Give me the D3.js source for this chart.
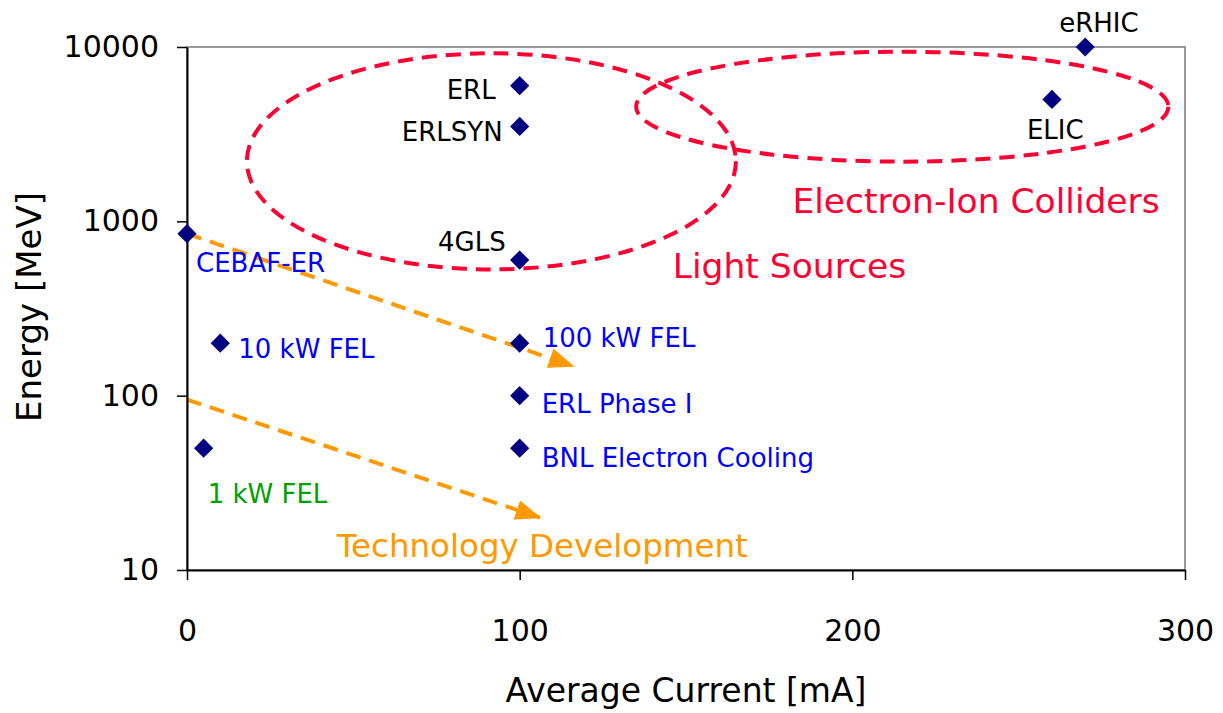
<!DOCTYPE html>
<html>
<head>
<meta charset="utf-8">
<script src="https://cdn.jsdelivr.net/npm/d3@7"></script>
<style>
  body { margin: 0; background: #fff; }
  text { font-family: "Comic Sans MS", "DejaVu Sans", sans-serif; }
</style>
</head>
<body>
<div id="chart"></div>
<script>
// Data
var names    = ["CEBAF-ER", "10 kW FEL", "1 kW FEL", "ERL", "ERLSYN", "4GLS",
                "100 kW FEL", "ERL Phase I", "BNL Electron Cooling", "ELIC", "eRHIC"];
var currents = [0, 10, 5, 100, 100, 100, 100, 100, 100, 260, 270];     // mA
var energies = [850, 200, 50, 6000, 3500, 600, 200, 100, 50, 5000, 10000]; // MeV
var facilityStatus = ["built", "built", "done", "proposed", "proposed", "proposed",
                      "built", "built", "built", "proposed", "proposed"];

var xTicks = [0, 100, 200, 300];
var yTicks = [10, 100, 1000, 10000];

// Groupings drawn as dashed ellipses (data extents)
var groupNames   = ["Light Sources", "Electron-Ion Colliders"];
var groupCurLo   = [18, 135];
var groupCurHi   = [165, 295];
var groupEnLo    = [530, 2200];
var groupEnHi    = [9200, 9400];
var groupLabelX  = [146, 182];
var groupLabelE  = [470, 1110];

// Technology development arrows
var arrowCur0 = [0, 0];
var arrowEn0  = [850, 95];
var arrowCur1 = [116, 106];
var arrowEn1  = [148, 20];
var trendLabel = "Technology Development";
var trendLabelX = 45, trendLabelE = 11.9;

// label offsets from markers (px)
var labelLayout = [
  {dx: 9,   dy: 38,  anchor: "start"},
  {dx: 18,  dy: 15,  anchor: "start"},
  {dx: 4,   dy: 55,  anchor: "start"},
  {dx: -24, dy: 13,  anchor: "end"},
  {dx: -17, dy: 15,  anchor: "end"},
  {dx: -14, dy: -9,  anchor: "end"},
  {dx: 23,  dy: 4,   anchor: "start"},
  {dx: 22,  dy: 17,  anchor: "start"},
  {dx: 22,  dy: 19,  anchor: "start"},
  {dx: -25, dy: 40,  anchor: "start"},
  {dx: -26, dy: -15, anchor: "start"}
];
var statusColor = {built: "#0000ff", done: "#00a000", proposed: "#000000"};

var margin = {top: 47, right: 38, bottom: 143, left: 187},
    width = 1223 - margin.left - margin.right,
    height = 713 - margin.top - margin.bottom;

var svg = d3.select("#chart").append("svg")
    .attr("width", 1223)
    .attr("height", 713)
    .append("g")
    .attr("transform", "translate(" + margin.left + "," + margin.top + ")");

var x = d3.scaleLinear().domain([0, 300]).range([0, width]);
var y = d3.scaleLog().domain([10, 10000]).range([height, 0]);

// plot frame (grey top/right)
svg.append("rect")
    .attr("width", width)
    .attr("height", height)
    .attr("fill", "none")
    .attr("stroke", "#999")
    .attr("stroke-width", 2);

// arrowhead
svg.append("defs").append("marker")
    .attr("id", "arrow")
    .attr("markerUnits", "userSpaceOnUse")
    .attr("viewBox", "0 0 26 20")
    .attr("markerWidth", 26)
    .attr("markerHeight", 20)
    .attr("refX", 24)
    .attr("refY", 10)
    .attr("orient", "auto")
    .append("path")
    .attr("d", "M0,0 L26,10 L0,20 Z")
    .attr("fill", "#ff9900");

var data = names.map(function(n, i) {
    return {name: n, cur: currents[i], en: energies[i],
            status: facilityStatus[i], lay: labelLayout[i]};
});

// ellipses
groupNames.forEach(function(g, i) {
    var x0 = x(groupCurLo[i]), x1 = x(groupCurHi[i]);
    var y0 = y(groupEnHi[i]), y1 = y(groupEnLo[i]);
    svg.append("ellipse")
        .attr("cx", (x0 + x1) / 2)
        .attr("cy", (y0 + y1) / 2)
        .attr("rx", (x1 - x0) / 2)
        .attr("ry", (y1 - y0) / 2)
        .attr("fill", "none")
        .attr("stroke", "#ff0033")
        .attr("stroke-width", 4)
        .attr("stroke-dasharray", "15,9");
    svg.append("text")
        .attr("x", x(groupLabelX[i]))
        .attr("y", y(groupLabelE[i]))
        .attr("fill", "#ff0033")
        .style("font-size", "34.5px")
        .text(g);
});

// arrows
arrowCur0.forEach(function(c, i) {
    svg.append("line")
        .attr("x1", x(c))
        .attr("y1", y(arrowEn0[i]))
        .attr("x2", x(arrowCur1[i]))
        .attr("y2", y(arrowEn1[i]))
        .attr("stroke", "#ff9900")
        .attr("stroke-width", 4)
        .attr("stroke-dasharray", "15,9")
        .attr("marker-end", "url(#arrow)");
});

svg.append("text")
    .attr("x", x(trendLabelX))
    .attr("y", y(trendLabelE))
    .attr("fill", "#ff9900")
    .style("font-size", "32.5px")
    .text(trendLabel);

// axes
var yAxis = svg.append("g")
    .call(d3.axisLeft(y).tickValues(yTicks).tickFormat(d3.format("d"))
        .tickSize(10).tickSizeOuter(0).tickPadding(18));
var xAxis = svg.append("g")
    .attr("transform", "translate(0," + height + ")")
    .call(d3.axisBottom(x).tickValues(xTicks)
        .tickSize(10).tickSizeOuter(0).tickPadding(40));

[xAxis, yAxis].forEach(function(a) {
    a.select(".domain").attr("stroke", "#000").attr("stroke-width", 2);
    a.selectAll(".tick line").attr("stroke", "#000").attr("stroke-width", 1.5);
    a.selectAll(".tick text")
        .attr("fill", "#000")
        .style("font-family", "'Comic Sans MS', 'DejaVu Sans', sans-serif")
        .style("font-size", "30px");
});

// points
svg.append("g")
    .selectAll("path")
    .data(data)
    .join("path")
    .attr("d", d3.symbol().type(d3.symbolSquare).size(185))
    .attr("transform", function(d) {
        return "translate(" + x(d.cur) + "," + y(d.en) + ") rotate(45)";
    })
    .attr("fill", "#000080");

// point labels
svg.append("g")
    .selectAll("text")
    .data(data)
    .join("text")
    .attr("x", function(d) { return x(d.cur) + d.lay.dx; })
    .attr("y", function(d) { return y(d.en) + d.lay.dy; })
    .attr("text-anchor", function(d) { return d.lay.anchor; })
    .attr("fill", function(d) { return statusColor[d.status]; })
    .style("font-size", "26px")
    .text(function(d) { return d.name; });

// X axis label
svg.append("text")
    .attr("x", width / 2)
    .attr("y", height + 132)
    .attr("text-anchor", "middle")
    .style("font-size", "33px")
    .text("Average Current [mA]");

// Y axis label
svg.append("text")
    .attr("transform", "rotate(-90)")
    .attr("x", 0 - 260)
    .attr("y", 0 - margin.left + 41)
    .attr("text-anchor", "middle")
    .style("font-size", "34px")
    .text("Energy [MeV]");
</script>
</body>
</html>
